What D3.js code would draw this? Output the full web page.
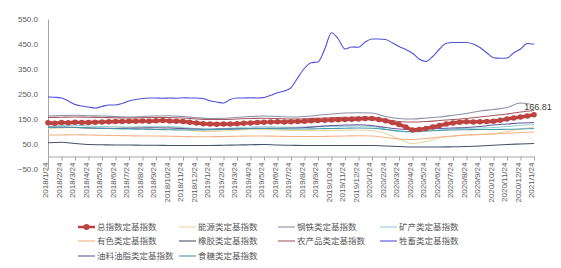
<!DOCTYPE html>
<html>
<head>
<meta charset="utf-8">
<script src="https://cdn.jsdelivr.net/npm/d3@7"></script>
<style>
  body { margin: 0; background: #fff; }
  text { font-family: "Noto Sans CJK SC", "DejaVu Sans", sans-serif; }
</style>
</head>
<body>
<script>
const width = 561, height = 268;

// month labels on the x axis
const monthLabels = [];
for (let y = 2018; y <= 2020; y++) {
  for (let m = 1; m <= 12; m++) monthLabels.push(y + "/" + m + "/24");
}
monthLabels.push("2021/1/24");

const yTicks = [-50, 50, 150, 250, 350, 450, 550];

// semi-monthly series (step 0.5 month)
const totalIndex = [135,133,136,135,137,136,136,137,138,139,140,140,141,141,142,141,143,144,142,141,
  140,137,134,131,130,129,130,130,131,133,134,136,137,138,139,138,139,140,141,143,
  144,145,146,147,148,149,150,152,152,148,143,136,128,118,106,108,112,118,124,130,
  134,137,139,138,139,140,141,145,150,154,158,162,166.81];
const livestock = [238,237,234,222,208,202,198,194,200,206,206,212,222,228,232,234,234,233,234,233,
  235,234,234,232,223,218,214,228,234,234,235,234,236,245,255,262,275,315,353,375,
  378,430,495,470,430,438,437,458,470,470,468,455,440,428,413,390,380,400,430,453,
  456,456,456,450,436,415,395,393,394,415,430,452,449];

// monthly series
const energy     = [112,114,116,113,112,114,116,117,118,116,110,102,100,102,105,108,108,106,104,104,103,104,105,106,104,92,70,52,60,75,82,86,88,92,100,110,118];
const steel      = [162,164,165,163,162,160,158,160,162,163,160,155,152,153,156,160,162,160,158,160,165,170,174,175,174,160,152,150,154,158,165,172,182,188,196,214,206];
const mining     = [122,124,125,122,120,119,118,120,121,120,116,112,110,112,115,118,119,118,117,118,119,120,121,122,120,110,100,98,102,106,110,112,114,116,120,125,128];
const nonferrous = [86,86,87,86,85,84,83,82,82,81,80,79,79,80,81,82,82,81,80,80,80,81,82,83,82,76,70,68,72,78,82,86,88,90,93,96,98];
const rubber     = [55,57,52,48,47,46,46,45,45,44,44,44,44,45,46,47,48,46,45,44,44,44,44,44,44,42,40,38,38,38,39,40,42,45,48,50,52];
const agri       = [156,157,158,157,156,155,154,155,156,156,154,150,148,148,150,152,153,152,150,151,153,155,157,158,156,148,140,138,140,144,148,152,158,164,170,178,184];
const oils       = [118,117,116,114,113,112,113,114,115,114,112,110,109,110,111,112,113,113,114,116,120,124,126,127,124,116,110,108,110,112,114,116,120,126,130,134,136];
const sugar      = [116,118,117,115,113,111,110,109,108,107,106,106,107,108,110,112,112,111,110,110,111,112,113,114,113,108,102,100,102,104,106,107,108,108,109,110,112];

const seriesNames = ["总指数定基指数", "能源类定基指数", "钢铁类定基指数", "矿产类定基指数",
  "有色类定基指数", "橡胶类定基指数", "农产品类定基指数", "牲畜类定基指数",
  "油料油脂类定基指数", "食糖类定基指数"];
const seriesColors = ["#BD4340", "#EBD49E", "#8E8EA6", "#93D2D6",
  "#F4B183", "#44546A", "#A8575E", "#5050D8",
  "#66589E", "#4A9BAA"];

const half = d => d.map((v, i) => ({ x: i / 2, v: v }));
const full = d => d.map((v, i) => ({ x: i, v: v }));

const series = [
  { name: seriesNames[0], color: seriesColors[0], pts: half(totalIndex) },
  { name: seriesNames[1], color: seriesColors[1], pts: full(energy) },
  { name: seriesNames[2], color: seriesColors[2], pts: full(steel) },
  { name: seriesNames[3], color: seriesColors[3], pts: full(mining) },
  { name: seriesNames[4], color: seriesColors[4], pts: full(nonferrous) },
  { name: seriesNames[5], color: seriesColors[5], pts: full(rubber) },
  { name: seriesNames[6], color: seriesColors[6], pts: full(agri) },
  { name: seriesNames[7], color: seriesColors[7], pts: half(livestock) },
  { name: seriesNames[8], color: seriesColors[8], pts: full(oils) },
  { name: seriesNames[9], color: seriesColors[9], pts: full(sugar) }
];

const svg = d3.select("body").append("svg")
  .attr("width", width)
  .attr("height", height);

const x = d3.scaleLinear().domain([0, 36]).range([48, 534]);
const y = d3.scaleLinear().domain([-50, 550]).range([169, 19]);

// y axis
const yAxis = d3.axisLeft(y).tickValues(yTicks).tickFormat(d3.format(".1f")).tickSize(0).tickPadding(10);
const gy = svg.append("g").attr("transform", "translate(48,0)").call(yAxis);
gy.select(".domain").attr("stroke", "#A6A6A6");
gy.selectAll("text").attr("fill", "#595959").style("font-size", "8px")
  .style("font-family", "'Liberation Sans', Arial, sans-serif");

// x axis at value 0
const xAxis = d3.axisBottom(x).tickValues(d3.range(37)).tickFormat(i => monthLabels[i]).tickSize(4).tickSizeOuter(0);
const gx = svg.append("g").attr("transform", "translate(0," + y(0) + ")").call(xAxis);
gx.select(".domain").attr("stroke", "#A6A6A6");
gx.selectAll(".tick line").attr("stroke", "#A6A6A6");
gx.selectAll("text")
  .attr("fill", "#595959")
  .style("font-size", "8px")
  .style("font-family", "'Liberation Sans', Arial, sans-serif")
  .attr("text-anchor", "end")
  .attr("transform", "rotate(-90)")
  .attr("x", -6)
  .attr("y", -3)
  .attr("dy", "0.32em");

const line = d3.line().x(d => x(d.x)).y(d => y(d.v)).curve(d3.curveMonotoneX);

// draw thin series first, total on top
const drawOrder = [7, 1, 2, 3, 4, 5, 6, 8, 9, 0];
drawOrder.forEach(i => {
  const s = series[i];
  svg.append("path")
    .datum(s.pts)
    .attr("fill", "none")
    .attr("stroke", s.color)
    .attr("stroke-width", i === 0 ? 3.5 : 1.1)
    .attr("d", line);
});

svg.selectAll("circle.total")
  .data(series[0].pts)
  .enter().append("circle")
  .attr("class", "total")
  .attr("cx", d => x(d.x))
  .attr("cy", d => y(d.v))
  .attr("r", 2.8)
  .attr("fill", seriesColors[0]);

const last = series[0].pts[series[0].pts.length - 1];
svg.append("text")
  .attr("x", x(last.x) + 4)
  .attr("y", y(last.v) - 5)
  .attr("text-anchor", "middle")
  .attr("fill", "#404040")
  .style("font-size", "9px")
  .style("font-family", "'Liberation Sans', Arial, sans-serif")
  .text(d3.format(".2f")(last.v));

// legend
const legendCols = [78, 179, 278, 380];
const legendRows = [227, 241, 256];
const lg = svg.append("g");
series.forEach((s, i) => {
  const cx = legendCols[i % 4], cy = legendRows[Math.floor(i / 4)];
  const g = lg.append("g").attr("transform", "translate(" + cx + "," + cy + ")");
  g.append("line").attr("x1", 0).attr("x2", 17).attr("y1", 0).attr("y2", 0)
    .attr("stroke", s.color).attr("stroke-width", i === 0 ? 2.5 : 1.1);
  if (i === 0) g.append("circle").attr("cx", 8.5).attr("cy", 0).attr("r", 3).attr("fill", s.color);
  g.append("text").attr("x", 19).attr("y", 0).attr("dy", "0.35em")
    .attr("fill", "#595959").style("font-size", "8.5px").text(s.name);
});
</script>
</body>
</html>
